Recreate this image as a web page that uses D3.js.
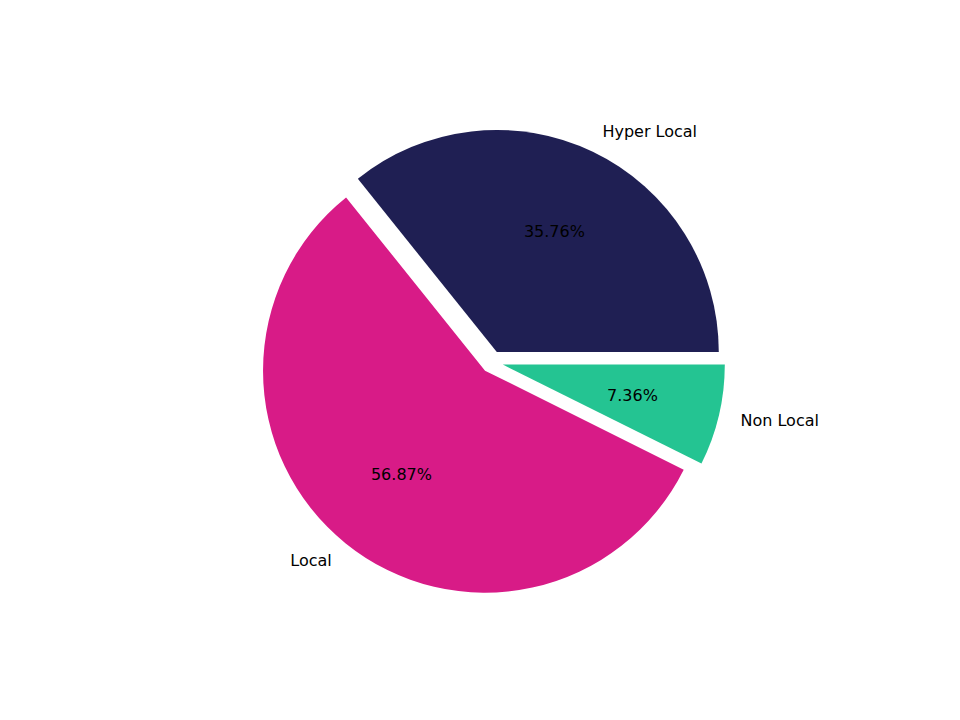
<!DOCTYPE html>
<html><head><meta charset="utf-8">
<script src="https://cdn.jsdelivr.net/npm/d3@7"></script>
<style>body{margin:0;background:#fff}text{font-family:"DejaVu Sans",sans-serif;font-size:16px;fill:#000}</style>
</head><body>
<svg id="c" width="960" height="720"></svg>
<script>
const categories = ["Hyper Local", "Local", "Non Local"];
const values = [35.76, 56.87, 7.36];
const colors = ["#1f1f53", "#d81b87", "#24c492"];

const cx = 492, cy = 362, r = 222, explode = 0.05;
const svg = d3.select("#c");
const pie = d3.pie().sort(null).startAngle(Math.PI/2).endAngle(Math.PI/2 - 2*Math.PI);
const arcs = pie(values);
const arc = d3.arc().innerRadius(0).outerRadius(r);
arcs.forEach((a, i) => {
  const mid = (a.startAngle + a.endAngle) / 2;
  const dx = Math.sin(mid), dy = -Math.cos(mid);
  const ox = cx + dx * explode * r, oy = cy + dy * explode * r;
  const g = svg.append("g").attr("transform", `translate(${ox},${oy})`);
  g.append("path").attr("d", arc(a)).attr("fill", colors[i]);
  g.append("text").attr("x", dx*1.1*r).attr("y", dy*1.1*r)
    .attr("text-anchor", dx >= 0 ? "start" : "end").attr("dominant-baseline", "central")
    .text(categories[i]);
  g.append("text").attr("x", dx*0.6*r).attr("y", dy*0.6*r)
    .attr("text-anchor", "middle").attr("dominant-baseline", "central")
    .text(values[i].toFixed(2) + "%");
});
</script>
</body></html>
